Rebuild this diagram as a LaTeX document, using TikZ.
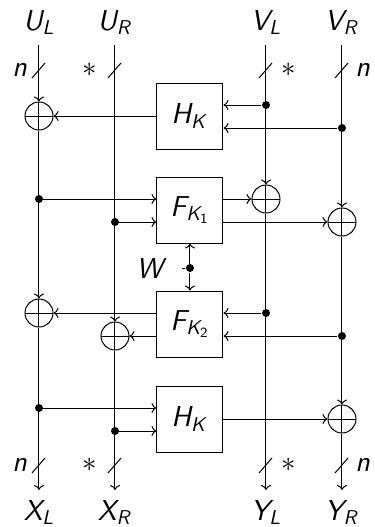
\documentclass[tikz,border=0pt]{standalone}
\usetikzlibrary{arrows.meta,positioning,calc}
\DeclareMathAlphabet{\mathsfit}{OT1}{cmss}{m}{sl}
\newcommand{\sv}[1]{\mathsfit{#1}}

\begin{document}
\begin{tikzpicture}[
    x=0.5pt, y=-0.5pt, >={To[length=2.5pt,width=5pt]}, line width=0.5pt,
    every node/.style={font=\Large},
    box/.style={draw, minimum size=33pt, inner sep=0pt},
    xor/.style={circle, draw, minimum size=14pt, inner sep=0pt,
                path picture={\draw (path picture bounding box.north) -- (path picture bounding box.south)
                                    (path picture bounding box.west) -- (path picture bounding box.east);}},
    dot/.style={circle, fill, inner sep=0pt, minimum size=4pt},
    wirelab/.style={anchor=base},
  ]
  \useasboundingbox (0,0) rectangle (375,527);

  % Wire labels
  \node[wirelab] (UL) at (39,30) {$\sv{U}_{\sv{L}}$};
  \node[wirelab] (UR) at (115,30) {$\sv{U}_{\sv{R}}$};
  \node[wirelab] (VL) at (266,30) {$\sv{V}_{\sv{L}}$};
  \node[wirelab] (VR) at (342,30) {$\sv{V}_{\sv{R}}$};
  \node[wirelab] (XL) at (39,520) {$\sv{X}_{\sv{L}}$};
  \node[wirelab] (XR) at (115,520) {$\sv{X}_{\sv{R}}$};
  \node[wirelab] (YL) at (266,520) {$\sv{Y}_{\sv{L}}$};
  \node[wirelab] (YR) at (342,520) {$\sv{Y}_{\sv{R}}$};

  % Wire ends
  \coordinate (ul) at (39,45);
  \coordinate (ur) at (115,45);
  \coordinate (vl) at (266,45);
  \coordinate (vr) at (342,45);
  \coordinate (xl) at (39,490);
  \coordinate (xr) at (115,490);
  \coordinate (yl) at (266,490);
  \coordinate (yr) at (342,490);

  % Boxes
  \node[box] (H1) at (190,116) {$\sv{H}_{\sv{K}}$};
  \node[box] (F1) at (190,210) {$\sv{F}_{\sv{K}_{\mathsf{1}}}$};
  \node[box] (F2) at (190,324) {$\sv{F}_{\sv{K}_{\mathsf{2}}}$};
  \node[box] (H2) at (190,419) {$\sv{H}_{\sv{K}}$};

  % Xor gates
  \node[xor] (x1) at (39,116) {};
  \node[xor] (x2) at (266,199) {};
  \node[xor] (x3) at (342,222) {};
  \node[xor] (x4) at (39,313) {};
  \node[xor] (x5) at (115,336) {};
  \node[xor] (x6) at (342,419) {};

  % Branch points
  \node[dot] (d1) at (266,105) {};
  \node[dot] (d2) at (342,128) {};
  \node[dot] (d3) at (39,199) {};
  \node[dot] (d4) at (115,222) {};
  \node[dot] (d5) at (266,313) {};
  \node[dot] (d6) at (342,336) {};
  \node[dot] (d7) at (39,408) {};
  \node[dot] (d8) at (115,431) {};
  \node[dot] (w) at (190,268) {};
  \node[inner sep=0pt] (W) at (152,268) {$\sv{W}$};

  % Vertical wires
  \draw[->] (ul) -- (x1);
  \draw[->] (x1) -- (x4);
  \draw[->] (x4) -- (xl);
  \draw[->] (ur) -- (x5);
  \draw[->] (x5) -- (xr);
  \draw[->] (vl) -- (x2);
  \draw[->] (x2) -- (yl);
  \draw[->] (vr) -- (x3);
  \draw[->] (x3) -- (x6);
  \draw[->] (x6) -- (yr);

  % Round 1
  \draw[->] (d1) -- (H1.east |- d1);
  \draw[->] (d2) -- (H1.east |- d2);
  \draw[->] (H1) -- (x1);

  % Round 2
  \draw[->] (d3) -- (F1.west |- d3);
  \draw[->] (d4) -- (F1.west |- d4);
  \draw[->] (F1.east |- x2) -- (x2);
  \draw[->] (F1.east |- x3) -- (x3);

  % Tweak
  \draw[shorten <=7pt] (W) -- (w);
  \draw[->] (w) -- (F1);
  \draw[->] (w) -- (F2);

  % Round 3
  \draw[->] (d5) -- (F2.east |- d5);
  \draw[->] (d6) -- (F2.east |- d6);
  \draw[->] (F2.west |- x4) -- (x4);
  \draw[->] (F2.west |- x5) -- (x5);

  % Round 4
  \draw[->] (d7) -- (H2.west |- d7);
  \draw[->] (d8) -- (H2.west |- d8);
  \draw[->] (H2) -- (x6);

  % Bus widths
  \foreach \x/\y in {39/70, 115/70, 266/70, 342/70, 39/465, 115/465, 266/465, 342/465}
    \draw (\x,\y) +(-7,8) -- +(6,-7);
  \foreach \y in {70, 465} {
    \node (n1-\y) at (20,\y) {$\sv{n}$};
    \node (s1-\y) at (90,\y) {$*$};
    \node (s2-\y) at (289,\y) {$*$};
    \node (n2-\y) at (363,\y) {$\sv{n}$};
  }
\end{tikzpicture}
\end{document}
